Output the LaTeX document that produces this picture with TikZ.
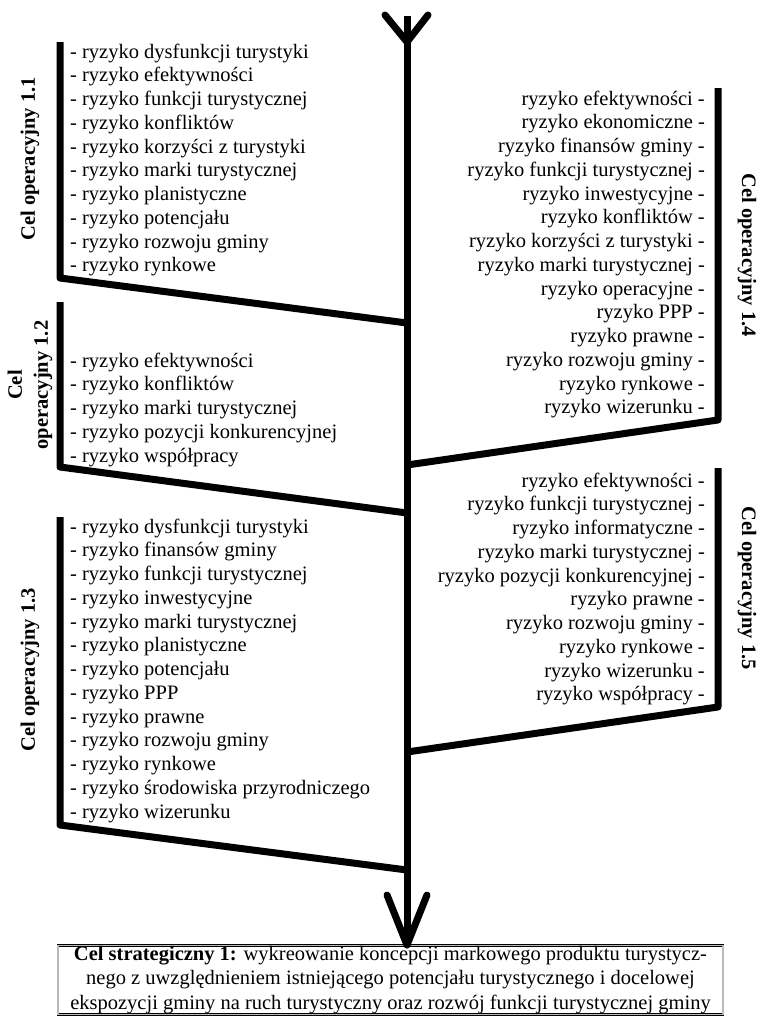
\documentclass[tikz,border=0pt]{standalone}
\usepackage{fontspec}
\setmainfont{Liberation Serif}
\begin{document}
\begin{tikzpicture}[x=1pt,y=-1pt,
  bar/.style={line width=7pt, line join=round, line cap=butt},
  tipline/.style={line width=7pt, line join=round, line cap=round},
  item/.style={font=\fontsize{20.5}{23.75}\selectfont, inner sep=0pt},
  lab/.style={font=\fontsize{20.5}{26}\selectfont\bfseries, inner sep=0pt, align=center},
  goalbox/.style={draw=black, double=gray!55, double distance=1.4pt, line width=0.7pt,
    font=\fontsize{20.5}{24.5}\selectfont, align=center, inner sep=0pt}]
\useasboundingbox (0,0) rectangle (757,1017);

% goal box
\node[goalbox, minimum width=665pt, minimum height=69pt, anchor=north] (goal) at (390.5,945)
 {\textbf{Cel strategiczny 1:} wykreowanie koncepcji markowego produktu turystycz-\\
  nego z uwzględnieniem istniejącego potencjału turystycznego i docelowej\\
  ekspozycji gminy na ruch turystyczny oraz rozwój funkcji turystycznej gminy};

% spine
\coordinate (top) at (407,16);
\coordinate (forkC) at (407,42);
\coordinate (forkL) at (385,15);
\coordinate (forkR) at (428,15);
\coordinate (arL) at (387,895);
\coordinate (arR) at (427,895);
\draw[bar] (top) -- (goal.north -| top);
\draw[tipline] (forkL) -- (forkC) -- (forkR);
\draw[tipline] (arL) -- (goal.north -| top) -- (arR);

% branches
\coordinate (b11t) at (60,42);  \coordinate (b11c) at (60,278); \coordinate (j11) at (407,323);
\coordinate (b12t) at (60,302); \coordinate (b12c) at (60,467); \coordinate (j12) at (407,513);
\coordinate (b13t) at (60,517); \coordinate (b13c) at (60,825); \coordinate (j13) at (407,870);
\coordinate (b14t) at (718,88); \coordinate (b14c) at (718,420); \coordinate (j14) at (407,465);
\coordinate (b15t) at (718,468); \coordinate (b15c) at (718,707); \coordinate (j15) at (407,752);
\draw[bar] (b11t) -- (b11c) -- (j11);
\draw[bar] (b12t) -- (b12c) -- (j12);
\draw[bar] (b13t) -- (b13c) -- (j13);
\draw[bar] (b14t) -- (b14c) -- (j14);
\draw[bar] (b15t) -- (b15c) -- (j15);

% labels
\node[lab, rotate=90] (c11) at (30,159) {Cel operacyjny 1.1};
\node[lab, rotate=90] (c12) at (30,385) {Cel\\operacyjny 1.2};
\node[lab, rotate=90] (c13) at (30,670) {Cel operacyjny 1.3};
\node[lab, rotate=-90] (c14) at (747,255) {Cel operacyjny 1.4};
\node[lab, rotate=-90] (c15) at (747,588) {Cel operacyjny 1.5};

% lists
\foreach \t [count=\i] in {dysfunkcji turystyki, efektywności, funkcji turystycznej, konfliktów, korzyści z turystyki, marki turystycznej, planistyczne, potencjału, rozwoju gminy, rynkowe}
  \node[item, anchor=base west] (a-\i) at (70,{58+23.75*(\i-1)}) {- ryzyko \t};
\foreach \t [count=\i] in {efektywności, konfliktów, marki turystycznej, pozycji konkurencyjnej, współpracy}
  \node[item, anchor=base west] (b-\i) at (70,{367+23.75*(\i-1)}) {- ryzyko \t};
\foreach \t [count=\i] in {dysfunkcji turystyki, finansów gminy, funkcji turystycznej, inwestycyjne, marki turystycznej, planistyczne, potencjału, PPP, prawne, rozwoju gminy, rynkowe, środowiska przyrodniczego, wizerunku}
  \node[item, anchor=base west] (c-\i) at (70,{533+23.75*(\i-1)}) {- ryzyko \t};
\foreach \t [count=\i] in {efektywności, ekonomiczne, finansów gminy, funkcji turystycznej, inwestycyjne, konfliktów, korzyści z turystyki, marki turystycznej, operacyjne, PPP, prawne, rozwoju gminy, rynkowe, wizerunku}
  \node[item, anchor=base east] (d-\i) at (705,{105+23.75*(\i-1)}) {ryzyko \t\ -};
\foreach \t [count=\i] in {efektywności, funkcji turystycznej, informatyczne, marki turystycznej, pozycji konkurencyjnej, prawne, rozwoju gminy, rynkowe, wizerunku, współpracy}
  \node[item, anchor=base east] (e-\i) at (705,{487+23.75*(\i-1)}) {ryzyko \t\ -};
\end{tikzpicture}
\end{document}
